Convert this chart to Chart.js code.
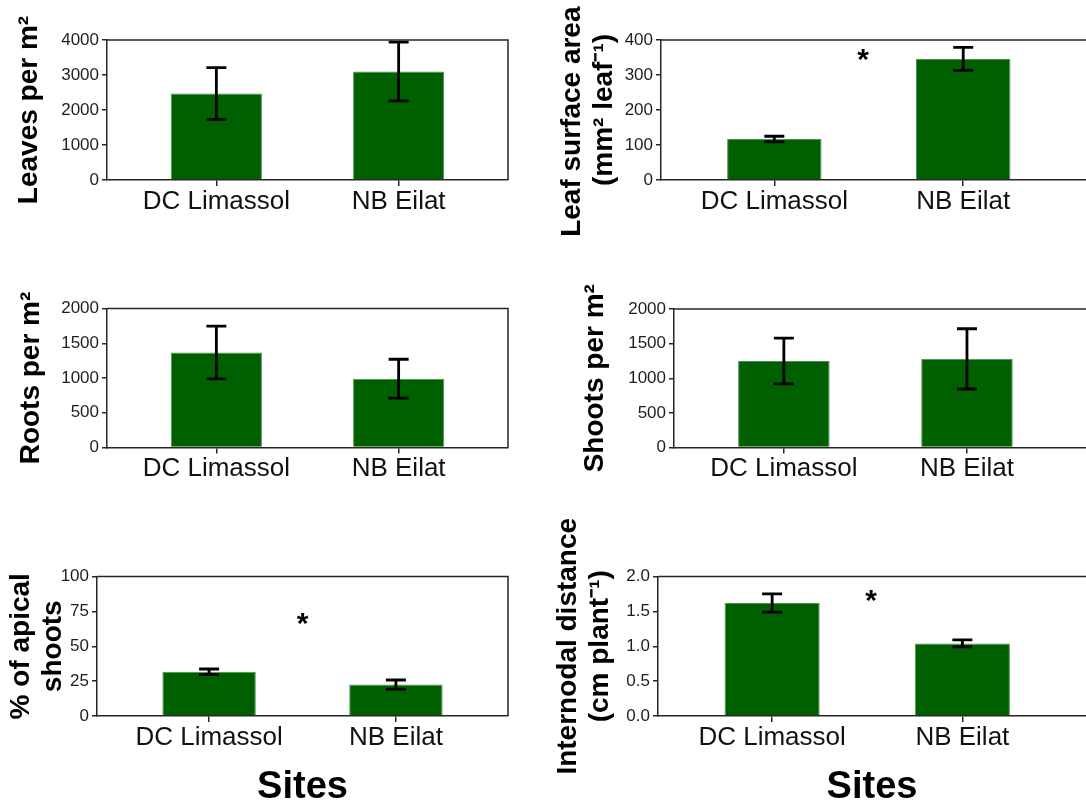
<!DOCTYPE html>
<html>
<head>
<meta charset="utf-8">
<script src="https://cdn.jsdelivr.net/npm/chart.js@4.4.1/dist/chart.umd.min.js"></script>
<style>
  html, body { margin: 0; padding: 0; background: #fff; }
  #wrap { position: relative; width: 1086px; height: 803px; overflow: hidden; }
  #wrap canvas { position: absolute; left: 0; top: 0; }
</style>
</head>
<body>
<div id="wrap">
  <canvas id="leaves" width="1086" height="803"></canvas>
  <canvas id="leafArea" width="1086" height="803"></canvas>
  <canvas id="roots" width="1086" height="803"></canvas>
  <canvas id="shoots" width="1086" height="803"></canvas>
  <canvas id="apical" width="1086" height="803"></canvas>
  <canvas id="internodal" width="1086" height="803"></canvas>
</div>
<script>
// sites on the x axis
const sites = ['DC Limassol', 'NB Eilat'];

// means and error bars
const leaves = [2470, 3100];
const leavesErr = [740, 840];
const leafArea = [117, 346];
const leafAreaErr = [8, 33];
const roots = [1367, 990];
const rootsErr = [380, 280];
const shoots = [1250, 1280];
const shootsErr = [330, 435];
const apical = [31.7, 22.5];
const apicalErr = [2, 3.3];
const internodal = [1.62, 1.04];
const internodalErr = [0.13, 0.05];

// y axis ranges
const leavesTicks = { max: 4000, step: 1000 };
const leafAreaTicks = { max: 400, step: 100 };
const rootsTicks = { max: 2000, step: 500 };
const shootsTicks = { max: 2000, step: 500 };
const apicalTicks = { max: 100, step: 25 };
const internodalTicks = { max: 2, step: 0.5 };

const axisColor = '#262626';
const barGreen = '#006000';
const barEdge = '#4f8f4f';

Chart.defaults.font.family = "'Liberation Sans', Arial, sans-serif";
Chart.defaults.color = '#1a1a1a';

const errbarsPlugin = {
  id: 'errbars',
  afterDatasetsDraw(chart, args, opts) {
    const { ctx, scales: { x, y } } = chart;
    const ds = chart.data.datasets[0];
    ctx.save();
    ctx.strokeStyle = '#000';
    ctx.lineWidth = 2.8;
    ds.data.forEach((pt, i) => {
      const px = x.getPixelForValue(pt.x);
      const hi = y.getPixelForValue(pt.y + opts.errors[i]);
      const lo = y.getPixelForValue(pt.y - opts.errors[i]);
      ctx.beginPath();
      ctx.moveTo(px, hi); ctx.lineTo(px, lo);
      ctx.moveTo(px - 10, hi); ctx.lineTo(px + 10, hi);
      ctx.moveTo(px - 10, lo); ctx.lineTo(px + 10, lo);
      ctx.stroke();
    });
    ctx.restore();
  }
};

// significance asterisk, placed in data coordinates
const starPlugin = {
  id: 'star',
  afterDatasetsDraw(chart, args, opts) {
    const { ctx, scales: { x, y } } = chart;
    const fs = 30;
    ctx.save();
    ctx.font = 'bold ' + fs + "px 'Liberation Sans', Arial, sans-serif";
    ctx.fillStyle = '#000';
    ctx.textAlign = 'center';
    ctx.textBaseline = 'alphabetic';
    ctx.fillText('*', x.getPixelForValue(opts.x), y.getPixelForValue(opts.y) + 0.45 * fs);
    ctx.restore();
  }
};

// top (and right) edges of the plot box
const framePlugin = {
  id: 'frame',
  afterDraw(chart, args, opts) {
    const { ctx, chartArea: a } = chart;
    ctx.save();
    ctx.strokeStyle = axisColor;
    ctx.lineWidth = 1.5;
    ctx.beginPath();
    ctx.moveTo(a.left, a.top);
    ctx.lineTo(a.right, a.top);
    if (opts.right) ctx.lineTo(a.right, a.bottom);
    ctx.stroke();
    ctx.restore();
  }
};

function makeChart(id, p) {
  return new Chart(document.getElementById(id), {
    type: 'bar',
    data: {
      datasets: [{
        data: p.values.map((v, i) => ({ x: i + 1, y: v })),
        backgroundColor: barGreen,
        borderColor: barEdge,
        borderWidth: 1,
        categoryPercentage: 1,
        barPercentage: 0.5,
      }],
    },
    options: {
      responsive: false,
      animation: false,
      layout: { padding: { left: p.padLeft, top: p.top, right: p.padRight, bottom: p.padBottom } },
      plugins: {
        legend: { display: false },
        tooltip: { enabled: false },
        errbars: { errors: p.errors },
        star: p.star || false,
        frame: { right: p.padRight > 0 },
      },
      scales: {
        x: {
          type: 'linear',
          min: 0.4,
          max: p.xMax,
          offset: false,
          afterBuildTicks: s => { s.ticks = sites.map((_, i) => ({ value: i + 1 })); },
          afterFit: s => { s.height = p.xHeight; },
          ticks: {
            callback: v => sites[v - 1],
            font: { size: 26 },
            color: '#111',
            padding: 0,
            maxRotation: 0,
            autoSkip: false,
          },
          grid: { drawOnChartArea: false, tickLength: 6, color: axisColor, lineWidth: 1.5, offset: false },
          border: { color: axisColor, width: 1.5 },
          title: p.xTitle
            ? { display: true, text: p.xTitle, font: { size: 38, weight: 'bold' }, color: '#000', padding: { top: 0, bottom: -7 } }
            : { display: false },
        },
        y: {
          min: 0,
          max: p.ticks.max,
          afterFit: s => { s.width = p.yWidth; },
          ticks: {
            stepSize: p.ticks.step,
            font: { size: 17 },
            color: '#1e1e1e',
            padding: 3,
            callback: p.fmt || (v => v),
          },
          grid: { drawOnChartArea: false, tickLength: 5, color: axisColor, lineWidth: 1.5 },
          border: { color: axisColor, width: 1.5 },
          title: {
            display: true,
            text: p.yTitle,
            font: { size: 28, weight: 'bold', lineHeight: 1.15 },
            color: '#000',
            padding: { top: p.titlePad, bottom: 0 },
          },
        },
      },
    },
    plugins: [errbarsPlugin, starPlugin, framePlugin],
  });
}

makeChart('leaves', {
  values: leaves, errors: leavesErr, ticks: leavesTicks,
  yTitle: 'Leaves per m²',
  padLeft: 0, yWidth: 107, top: 40, xHeight: 40, padBottom: 583, padRight: 578, xMax: 2.6, titlePad: 13,
});

makeChart('leafArea', {
  values: leafArea, errors: leafAreaErr, ticks: leafAreaTicks,
  yTitle: ['Leaf surface area   ', '(mm² leaf⁻¹)'],
  star: { x: 1.47, y: 355 },
  padLeft: 543, yWidth: 118, top: 40, xHeight: 40, padBottom: 583, padRight: 0, xMax: 2.65, titlePad: 13,
});

makeChart('roots', {
  values: roots, errors: rootsErr, ticks: rootsTicks,
  yTitle: 'Roots per m²',
  padLeft: 0, yWidth: 107, top: 308.5, xHeight: 40, padBottom: 315.5, padRight: 578, xMax: 2.6, titlePad: 15,
});

makeChart('shoots', {
  values: shoots, errors: shootsErr, ticks: shootsTicks,
  yTitle: 'Shoots per m²',
  padLeft: 543, yWidth: 131, top: 309, xHeight: 40, padBottom: 315.5, padRight: 0, xMax: 2.65, titlePad: 36,
});

makeChart('apical', {
  values: apical, errors: apicalErr, ticks: apicalTicks,
  yTitle: ['% of apical', 'shoots'],
  xTitle: 'Sites',
  star: { x: 1.5, y: 69 },
  padLeft: 0, yWidth: 97, top: 576.5, xHeight: 87, padBottom: 0, padRight: 578, xMax: 2.6, titlePad: 5,
});

makeChart('internodal', {
  values: internodal, errors: internodalErr, ticks: internodalTicks,
  yTitle: ['Internodal distance', '(cm plant⁻¹)'],
  xTitle: 'Sites',
  star: { x: 1.52, y: 1.72 },
  fmt: v => v.toFixed(1),
  padLeft: 543, yWidth: 115, top: 576.5, xHeight: 87, padBottom: 0, padRight: 0, xMax: 2.65, titlePad: 9,
});
</script>
</body>
</html>
